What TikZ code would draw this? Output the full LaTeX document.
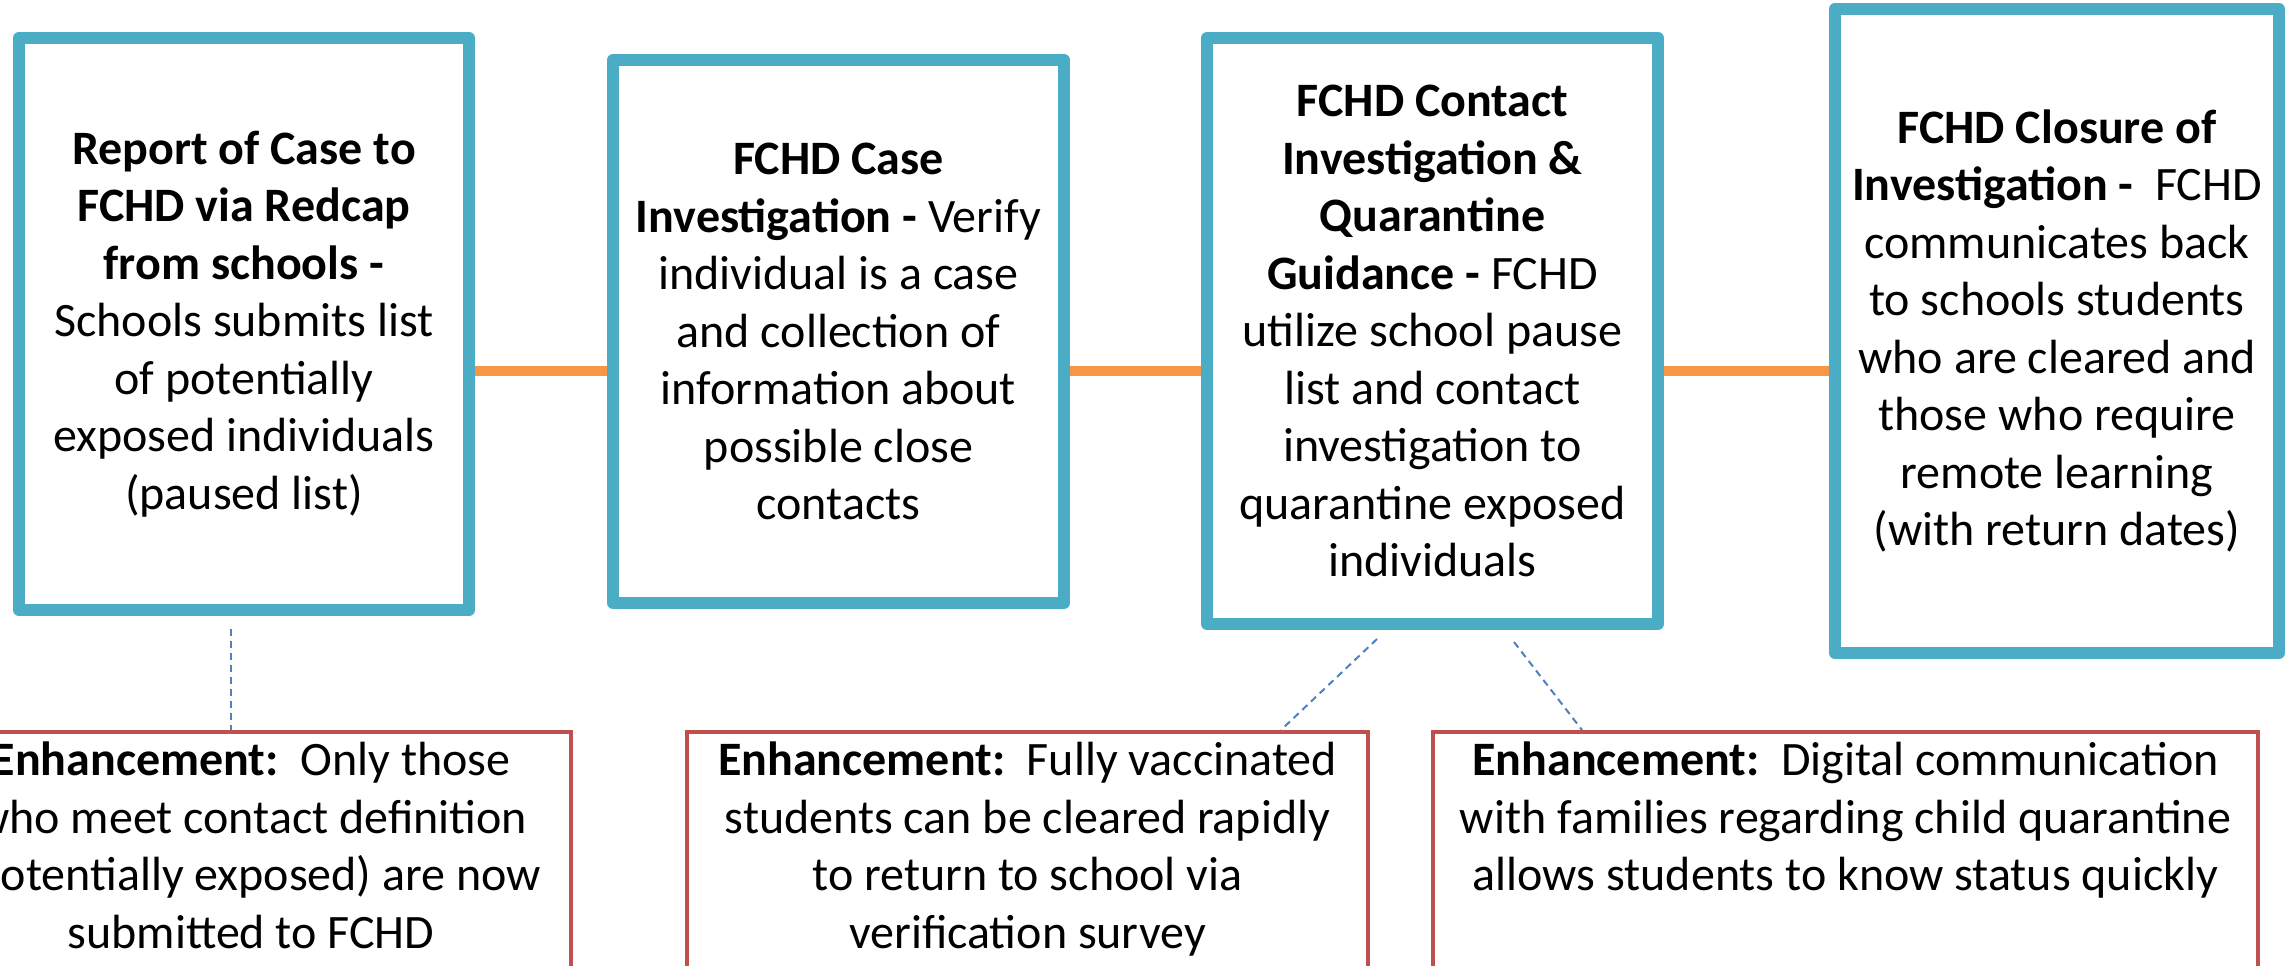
\documentclass[tikz,border=0pt]{standalone}
\usepackage{fontspec}
\setmainfont{Carlito}
\usetikzlibrary{backgrounds}

\definecolor{stageblue}{HTML}{4BACC6}
\definecolor{linkorange}{HTML}{F79646}
\definecolor{enhred}{HTML}{C0504D}
\definecolor{tieblue}{HTML}{4F81BD}

\begin{document}
\begin{tikzpicture}[x=1pt,y=-1pt,
    stage/.style={draw=stageblue, line width=12pt, line join=round, fill=white,
        inner sep=0pt, align=center, font=\fontsize{48}{57.5}\selectfont},
    enhbox/.style={draw=enhred, line width=4pt, fill=white, inner sep=0pt},
    enhtext/.style={anchor=north, inner sep=0pt, align=center,
        font=\fontsize{48}{57.5}\selectfont},
    link/.style={draw=linkorange, line width=10pt},
    tie/.style={draw=tieblue, line width=2pt, dash pattern=on 7pt off 5pt}]
    \useasboundingbox (0,0) rectangle (2295,966);
    \clip (0,0) rectangle (2295,966);

    % stages
    \node[stage, minimum width=450pt, minimum height=572pt] (s1) at (244,324)
        {\textbf{Report of Case to}\\ \textbf{FCHD via Redcap}\\ \textbf{from schools -}\\
         Schools submits list\\ of potentially\\ exposed individuals\\ (paused list)};
    \node[stage, minimum width=451pt, minimum height=543pt] (s2) at (838.5,331.5)
        {\textbf{FCHD Case}\\ \textbf{Investigation -} Verify\\ individual is a case\\
         and collection of\\ information about\\ possible close\\ contacts};
    \node[stage, minimum width=451pt, minimum height=586pt] (s3) at (1432.5,331)
        {\textbf{FCHD Contact}\\ \textbf{Investigation \&}\\ \textbf{Quarantine}\\
         \textbf{Guidance -} FCHD\\ utilize school pause\\ list and contact\\
         investigation to\\ quarantine exposed\\ individuals};
    \node[stage, minimum width=444pt, minimum height=644pt] (s4) at (2057,331)
        {\textbf{FCHD Closure of}\\ \textbf{Investigation -}~~FCHD\\ communicates back\\
         to schools students\\ who are cleared and\\ those who require\\
         remote learning\\ (with return dates)};

    % enhancements
    \node[enhbox, minimum width=640pt, minimum height=268pt] (e1) at (251,866) {};
    \node[enhbox, minimum width=681pt, minimum height=268pt] (e2) at (1027.5,866) {};
    \node[enhbox, minimum width=825pt, minimum height=268pt] (e3) at (1845.5,866) {};
    \node[enhtext] (e1t) at ([yshift=-12pt]e1.north)
        {\textbf{Enhancement:}~~Only those\\ who meet contact definition\\
         (potentially exposed) are now\\ submitted to FCHD};
    \node[enhtext] (e2t) at ([yshift=-12pt]e2.north)
        {\textbf{Enhancement:}~~Fully vaccinated\\ students can be cleared rapidly\\
         to return to school via\\ verification survey};
    \node[enhtext] (e3t) at ([yshift=-12pt]e3.north)
        {\textbf{Enhancement:}~~Digital communication\\ with families regarding child quarantine\\
         allows students to know status quickly};

    % links between stages
    \coordinate (axis) at (0,371);
    \begin{scope}[on background layer]
        \fill[white] (0,0) rectangle (2295,966);
        \draw[link] (s1.east |- axis) -- (s2.west |- axis);
        \draw[link] (s2.east |- axis) -- (s3.west |- axis);
        \draw[link] (s3.east |- axis) -- (s4.west |- axis);
    \end{scope}

    % ties to enhancements
    \draw[tie] ([xshift=-13pt,yshift=-13pt]s1.south) -- ([xshift=-20pt]e1.north);
    \draw[tie] ([xshift=-55.5pt,yshift=-9pt]s3.south) -- ([xshift=253.5pt]e2.north);
    \draw[tie] ([xshift=81.5pt,yshift=-12pt]s3.south) -- ([xshift=-263.5pt]e3.north);
\end{tikzpicture}
\end{document}
